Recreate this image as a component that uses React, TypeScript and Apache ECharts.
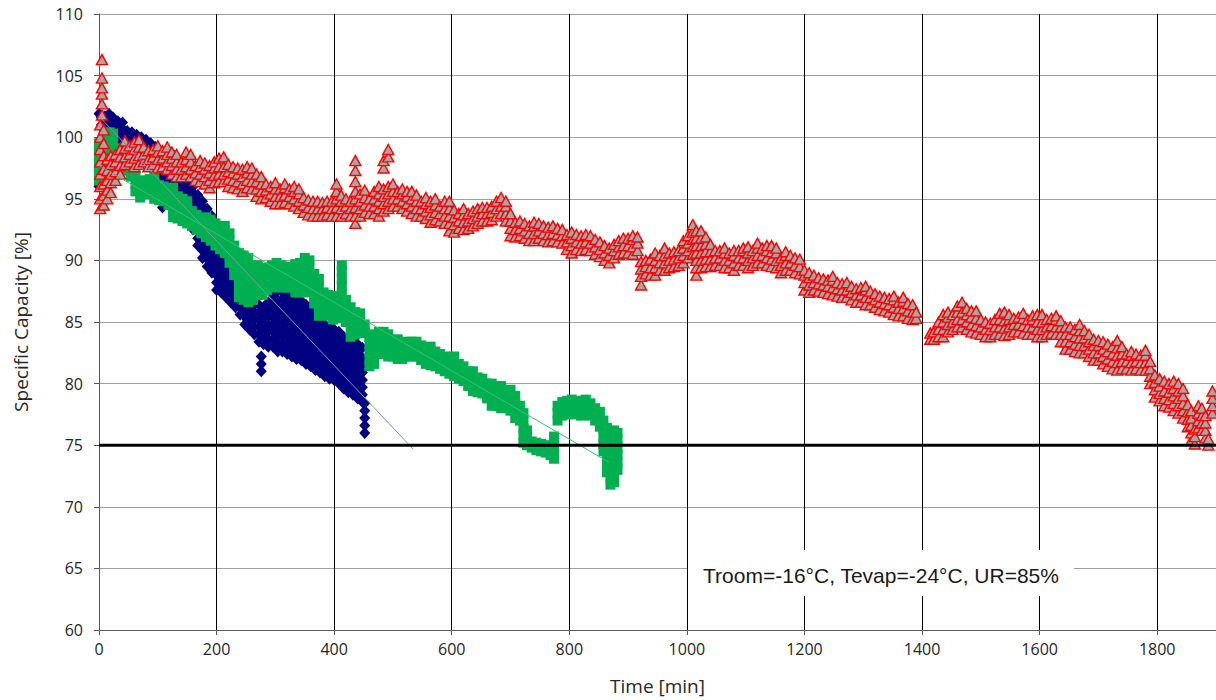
import { useEffect, useRef } from "react";
import * as echarts from "echarts";

// ---------- axis ticks ----------
const xTicks = { min: 0, max: 1900, interval: 200 };
const yTicks = { min: 60, max: 110, interval: 5 };

// ---------- data: each row is [time, value, value, ...] read column by column ----------
const redSegA: number[][] = [
  [2, 94.2, 95, 96, 97, 98, 99, 100, 101],
  [5, 101.8, 102.7, 103.5, 104, 104.8, 106.3],
  [8, 94.5, 95.3, 96.2, 97.4, 98.5, 99.5, 100.6],
  [14, 95, 95.7, 96.5, 97.3, 98.2],
  [20, 95.5, 96.3, 97, 97.8, 98.5],
  [28, 96.5, 97.2, 98, 98.6],
  [36, 97, 97.7, 98.4, 99],
  [44, 97.8, 98.4, 99.1, 99.7],
  [52, 98, 98.6, 99.3],
  [60, 97.6, 98.3, 99, 99.6],
  [68, 97.8, 98.5, 99.2, 99.8],
  [76, 98, 98.6, 99.2],
  [84, 97.6, 98.2, 98.9],
  [92, 97.8, 98.4, 99],
  [100, 97.5, 98.2, 98.8, 99.3],
  [108, 97.6, 98.3, 98.9],
  [116, 97.4, 98, 98.6, 99.2],
  [124, 97, 97.7, 98.3, 98.8],
  [132, 96.8, 97.4, 98, 98.6],
  [140, 96.8, 97.4, 98],
  [148, 97, 97.6, 98.2, 98.8],
  [156, 96.8, 97.4, 98, 98.6],
  [164, 96.5, 97.1, 97.7],
  [172, 96.4, 97, 97.6, 98.1],
  [180, 96.2, 96.8, 97.4, 97.9],
  [188, 95.9, 96.5, 97.1, 97.7],
  [196, 96.3, 96.9, 97.5, 98],
  [204, 96.4, 97, 97.6, 98.3],
  [212, 96.4, 97, 97.6, 98.4],
  [220, 96, 96.6, 97.2, 97.8],
  [228, 95.9, 96.5, 97.1, 97.6],
  [236, 95.8, 96.4, 97, 97.5],
  [244, 95.6, 96.2, 96.8, 97.4],
  [252, 95.9, 96.5, 97.1, 97.6],
  [260, 95.8, 96.4, 97, 97.5],
  [268, 95.2, 95.8, 96.4, 97],
  [276, 95, 95.6, 96.2, 96.8],
  [284, 95.1, 95.7, 96.2],
  [292, 94.8, 95.4, 96],
  [300, 94.6, 95.2, 95.8, 96.3],
  [308, 94.6, 95.2, 95.8],
  [316, 94.7, 95.3, 95.9, 96.2],
  [324, 94.6, 95.2, 95.8],
  [332, 94.4, 95, 95.6, 96],
  [340, 94.2, 94.8, 95.4, 95.8],
  [348, 93.9, 94.5, 95.1],
  [356, 93.7, 94.3, 94.9],
  [364, 93.6, 94.2, 94.8],
  [372, 93.6, 94.2, 94.8],
  [380, 93.6, 94.2, 94.7],
  [388, 93.7, 94.3, 94.8],
  [396, 93.6, 94.2, 94.8],
  [404, 93.6, 94.3, 95, 95.6, 96.2],
  [412, 93.6, 94.2, 94.8, 95.3],
  [420, 93.8, 94.4, 95],
  [428, 93.6, 94.2, 94.8],
  [436, 93, 93.6, 94.3, 95, 95.6, 96.4, 97.3, 98.1],
  [444, 93.6, 94.2, 94.8, 95.4],
  [452, 93.9, 94.5, 95.1, 95.7],
  [460, 93.8, 94.4, 95],
  [468, 93.8, 94.4, 95, 95.6],
  [476, 93.6, 94.2, 94.8, 95.4, 96],
  [484, 94, 94.6, 95.2, 95.8, 97.5, 98.1],
  [492, 94.2, 94.8, 95.4, 96, 98.4, 99],
  [500, 94.4, 95, 95.6, 96.2],
  [508, 94.4, 95, 95.6],
  [516, 94.2, 94.8, 95.4, 95.8],
  [524, 94, 94.6, 95.2, 95.6],
  [532, 93.8, 94.4, 95, 95.6],
  [540, 93.6, 94.2, 94.8, 95.3],
  [548, 93.6, 94.2, 94.8],
  [556, 93.4, 94, 94.6, 95.1],
  [564, 93.1, 93.7, 94.3, 94.8],
  [572, 93.3, 93.9, 94.5, 95],
  [580, 93.2, 93.8, 94.4],
  [588, 93, 93.6, 94.2, 94.8],
  [596, 92.4, 93, 93.6, 94.2, 94.8],
  [604, 92.3, 92.9, 93.5, 94.1],
  [612, 92.6, 93.2, 93.8],
  [620, 92.5, 93.1, 93.7, 94.2],
  [628, 92.6, 93.2, 93.8],
  [636, 92.8, 93.4, 94],
  [644, 93, 93.6, 94.2],
  [652, 93.2, 93.8, 94.3],
  [660, 93.2, 93.8, 94.3],
  [668, 93.3, 93.9, 94.4],
  [676, 93.6, 94.2, 94.8],
  [684, 93.8, 94.4, 95.1],
  [692, 93.2, 93.8, 94.4, 94.8],
  [700, 92, 92.6, 93.2, 93.8],
  [708, 91.9, 92.5, 93.1],
  [716, 92, 92.6, 93.2],
  [724, 91.8, 92.4, 93],
  [732, 91.6, 92.2, 92.8],
  [740, 91.6, 92.2, 92.8, 93.1],
  [748, 91.8, 92.4, 93],
  [756, 91.6, 92.2, 92.8],
  [764, 91.5, 92.1, 92.7],
  [772, 91.6, 92.2, 92.8],
  [780, 91.5, 92.1, 92.6],
  [788, 91.4, 92, 92.5],
  [796, 90.9, 91.5, 92.1],
  [804, 90.6, 91.2, 91.8, 92.3],
  [812, 90.9, 91.5, 92.1],
  [820, 90.8, 91.4, 92],
  [828, 90.9, 91.5, 92.1],
  [836, 90.8, 91.4, 92],
  [844, 90.5, 91.1, 91.7],
  [852, 90.3, 90.9, 91.5],
  [860, 90, 90.6, 91.2],
  [868, 89.8, 90.4, 91],
  [876, 90.2, 90.8, 91.3],
  [884, 90.5, 91.1, 91.6],
  [892, 90.6, 91.2, 91.8],
  [900, 90.6, 91.2, 91.8],
  [908, 90.5, 91.1, 91.7, 92],
  [916, 90.8, 91.4, 91.9],
];

const redSegB: number[][] = [
  [922, 88, 88.7, 89.3, 89.9],
  [930, 88.9, 89.5, 90],
  [938, 88.8, 89.4, 90.1],
  [946, 88.8, 89.4, 90, 90.6],
  [954, 89.2, 89.8, 90.4],
  [962, 89.2, 89.8, 90.4, 91],
  [970, 89.4, 90, 90.6],
  [978, 89.5, 90.1, 90.7],
  [986, 89.6, 90.2, 90.8],
  [994, 89.8, 90.4, 91, 91.6],
  [1002, 90.2, 90.8, 91.4, 92],
  [1010, 90.5, 91.1, 91.7, 92.3, 92.9],
  [1016, 88.8, 89.4, 90, 90.6, 91.2, 91.8, 92.4],
  [1024, 89.4, 90, 90.6, 91.2, 91.8, 92.4],
  [1032, 89.5, 90.1, 90.7, 91.3, 91.9],
  [1040, 89.5, 90.1, 90.7, 91.3],
  [1048, 89.6, 90.2, 90.8],
  [1056, 89.6, 90.2, 90.8],
  [1064, 89.4, 90, 90.6, 91],
  [1072, 89.4, 90, 90.6],
  [1080, 89.2, 89.8, 90.4, 90.8],
  [1088, 89.6, 90.2, 90.8],
  [1096, 89.6, 90.2, 90.8, 91],
  [1104, 89.4, 90, 90.6, 91.1],
  [1112, 89.6, 90.2, 90.8],
  [1120, 89.8, 90.4, 91, 91.4],
  [1128, 89.8, 90.4, 91],
  [1136, 89.6, 90.2, 90.8, 91.2],
  [1144, 89.5, 90.1, 90.7, 91.2],
  [1152, 89.4, 90, 90.6, 91],
  [1160, 89, 89.6, 90.2],
  [1168, 89.2, 89.8, 90.4, 90.7],
  [1176, 89.2, 89.8, 90.4],
  [1184, 89, 89.6, 90.2],
  [1192, 88.9, 89.5, 90.1],
  [1200, 87.6, 88.2, 88.8, 89.2],
  [1208, 87.4, 88, 88.6, 89],
  [1216, 87.6, 88.2, 88.8],
  [1224, 87.5, 88.1, 88.6],
  [1232, 87.4, 88, 88.5],
  [1240, 87.3, 87.9, 88.4],
  [1248, 87.2, 87.8, 88.4, 88.7],
  [1256, 87.1, 87.7, 88.2],
  [1264, 87, 87.6, 88.1],
  [1272, 87, 87.6, 88.2],
  [1280, 86.8, 87.4, 87.9],
  [1288, 86.6, 87.2, 87.7],
  [1296, 86.6, 87.2, 87.8],
  [1304, 86.4, 87, 87.6, 87.9],
  [1312, 86.4, 87, 87.5],
  [1320, 86.2, 86.8, 87.3],
  [1328, 86, 86.6, 87.1],
  [1336, 85.9, 86.5, 87],
  [1344, 85.8, 86.4, 86.9],
  [1352, 85.6, 86.2, 86.8, 87.1],
  [1360, 85.5, 86.1, 86.6],
  [1368, 85.5, 86.1, 86.7, 87],
  [1376, 85.3, 85.9, 86.5],
  [1384, 85.2, 85.8, 86.4],
  [1390, 85.3, 85.8],
];

const redSegC: number[][] = [
  [1414, 83.6, 84.1],
  [1420, 83.6, 84.2],
  [1428, 83.8, 84.4, 85],
  [1436, 83.8, 84.4, 85, 85.6],
  [1444, 84.2, 84.8, 85.4, 85.8],
  [1452, 84.4, 85, 85.6],
  [1460, 84.6, 85.2, 85.8, 86.3],
  [1468, 84.6, 85.2, 85.8, 86.6],
  [1476, 84.4, 85, 85.6, 86.1],
  [1484, 84.2, 84.8, 85.4, 85.9],
  [1492, 84.1, 84.7, 85.3, 85.9],
  [1500, 84, 84.6, 85.2],
  [1508, 83.8, 84.4, 85],
  [1516, 83.8, 84.4, 84.9],
  [1524, 84, 84.6, 85.2],
  [1532, 84, 84.6, 85.2, 85.7],
  [1540, 83.9, 84.5, 85.1, 85.8],
  [1548, 84, 84.6, 85.2, 85.6],
  [1556, 84.2, 84.8, 85.3],
  [1564, 84.2, 84.8, 85.4],
  [1572, 84.1, 84.7, 85.3, 85.7],
  [1580, 84, 84.6, 85.2],
  [1588, 84, 84.6, 85.2, 85.5],
  [1596, 83.8, 84.4, 85, 85.6],
  [1604, 83.8, 84.4, 85, 85.6],
  [1612, 84, 84.6, 85.2],
  [1620, 84.1, 84.7, 85.3],
  [1628, 84, 84.6, 85.2, 85.5],
  [1636, 83.4, 84, 84.6, 85.1],
  [1644, 82.8, 83.4, 84, 84.6],
  [1652, 82.8, 83.4, 84, 84.6],
  [1660, 82.6, 83.2, 83.8, 84.4],
  [1668, 82.5, 83.1, 83.7, 84.3, 84.8],
  [1676, 82.5, 83.1, 83.7, 84.3],
  [1684, 82.2, 82.8, 83.4, 84],
  [1692, 81.9, 82.5, 83.1, 83.6],
  [1700, 81.9, 82.5, 83.1, 83.5],
  [1708, 81.6, 82.2, 82.8, 83.4],
  [1716, 81.4, 82, 82.6, 83.2],
  [1724, 81.2, 81.8, 82.4, 83],
  [1732, 81.1, 81.7, 82.3, 82.9, 83.5],
  [1740, 81.2, 81.8, 82.4, 83],
  [1748, 81.2, 81.8, 82.4],
  [1756, 81.1, 81.7, 82.3, 82.6],
  [1764, 81.2, 81.8, 82.4],
  [1772, 81.1, 81.7, 82.3],
  [1780, 81.1, 81.7, 82.3, 82.7],
  [1788, 80, 80.6, 81.2, 81.8],
  [1796, 78.9, 79.5, 80.1, 80.7],
  [1804, 78.6, 79.2, 79.8, 80.4],
  [1812, 78.2, 78.8, 79.4, 80.2],
  [1820, 78.1, 78.7, 79.3, 80],
  [1828, 77.8, 78.4, 79, 79.6, 80.2],
  [1836, 77.6, 78.2, 78.8, 79.4, 80],
  [1844, 77.2, 77.8, 78.4, 79, 79.6],
  [1852, 76.5, 77.1, 77.7, 78.3],
  [1858, 75.4, 76, 76.6, 77.2, 77.8],
  [1864, 75.1, 75.7, 76.3],
  [1870, 76.4, 77, 77.6, 78.2],
  [1876, 76.2, 76.8, 77.4, 78],
  [1882, 75.6, 76.2, 76.8, 77.4],
  [1887, 75, 75.5],
  [1894, 77.6, 78.2, 78.8, 79.4],
];

const blueColumns: number[][] = [
  [0, 96, 101.9],
  [4, 101, 101.6],
  [10, 100.5, 101.1, 101.7],
  [17, 100.3, 100.9, 101.5, 101.9],
  [24, 99.9, 100.5, 101.1, 101.6],
  [32, 99.5, 100.1, 100.7, 101.3],
  [40, 98.9, 99.5, 100.1, 100.7, 101.2],
  [48, 98.7, 99.3, 99.9, 100.5],
  [56, 98.6, 99.2, 99.8, 100.4],
  [64, 98.4, 99, 99.6, 100.2],
  [72, 98.3, 98.9, 99.5, 100],
  [80, 98.1, 98.7, 99.3, 99.8],
  [88, 97.8, 98.4, 99, 99.5],
  [96, 97.6, 98.2, 98.8, 99.2],
  [104, 96, 96.6, 97.2, 97.8, 98.4, 98.9],
  [108, 94.3, 94.7],
  [112, 96, 96.6, 97.2, 97.8, 98.4],
  [120, 95.8, 96.4, 97, 97.6, 98.2],
  [128, 95.5, 96.1, 96.7, 97.3, 97.9, 98.5],
  [136, 95.3, 95.9, 96.5, 97.1, 97.7],
  [144, 94.6, 95.2, 95.8, 96.4, 97],
  [152, 93.6, 94.2, 94.8, 95.4, 96, 96.4],
  [160, 92.5, 93.1, 93.7, 94.3, 94.9, 95.5, 96],
  [168, 91.2, 91.8, 92.4, 93, 93.6, 94.2, 94.8, 95.3],
  [176, 90.2, 90.8, 91.4, 92, 92.6, 93.2, 93.8, 94.4, 94.8],
  [184, 89.5, 90.1, 90.7, 91.3, 91.9, 92.5, 93.1, 93.7, 94.2],
  [192, 89, 89.6, 90.2, 90.8, 91.4, 92, 92.6, 93.2, 93.6],
  [200, 87.6, 88.2, 88.8, 89.4, 90, 90.6, 91.2, 91.8],
  [208, 87.4, 88, 88.6, 89.2, 89.8, 90.4, 91, 91.5],
  [216, 87, 87.6, 88.2, 88.8, 89.4, 90, 90.6],
  [224, 86.6, 87.2, 87.8, 88.4, 89, 89.6, 90.2],
  [232, 86.2, 86.8, 87.4, 88, 88.6, 89.2],
  [240, 85.6, 86.2, 86.8, 87.4, 88, 88.6],
  [248, 84.8, 85.4, 86, 86.6, 87.2, 87.8],
  [256, 84.4, 85, 85.6, 86.2, 86.8, 87.4],
  [264, 84, 84.6, 85.2, 85.8, 86.4, 87],
  [272, 83.4, 84, 84.6, 85.2, 85.8, 86.4],
  [276, 81, 81.6, 82.2],
  [280, 83.2, 83.8, 84.4, 85, 85.6, 86.2],
  [288, 83, 83.6, 84.2, 84.8, 85.4, 86, 86.6],
  [296, 83, 83.6, 84.2, 84.8, 85.4, 86, 86.6, 87.2],
  [304, 82.6, 83.2, 83.8, 84.4, 85, 85.6, 86.2, 86.8, 87.6],
  [312, 82.6, 83.2, 83.8, 84.4, 85, 85.6, 86.2, 86.8, 87.4],
  [320, 82.4, 83, 83.6, 84.2, 84.8, 85.4, 86, 86.6, 87.2],
  [328, 82.2, 82.8, 83.4, 84, 84.6, 85.2, 85.8, 86.4, 87],
  [336, 82, 82.6, 83.2, 83.8, 84.4, 85, 85.6, 86.2, 86.8],
  [344, 81.9, 82.5, 83.1, 83.7, 84.3, 84.9, 85.5, 86.1, 86.7],
  [352, 81.6, 82.2, 82.8, 83.4, 84, 84.6, 85.2, 85.8, 86.4],
  [360, 81.4, 82, 82.6, 83.2, 83.8, 84.4, 85, 85.6, 86.2],
  [368, 81.1, 81.7, 82.3, 82.9, 83.5, 84.1, 84.7, 85.3, 85.8],
  [376, 80.9, 81.5, 82.1, 82.7, 83.3, 83.9, 84.5, 85.1],
  [384, 80.6, 81.2, 81.8, 82.4, 83, 83.6, 84.2, 84.8],
  [392, 80.4, 81, 81.6, 82.2, 82.8, 83.4, 84, 84.6],
  [400, 80.3, 80.9, 81.5, 82.1, 82.7, 83.3, 83.9, 84.4],
  [408, 80, 80.6, 81.2, 81.8, 82.4, 83, 83.6, 84.2],
  [416, 79.6, 80.2, 80.8, 81.4, 82, 82.6, 83.2, 83.8],
  [424, 79.3, 79.9, 80.5, 81.1, 81.7, 82.3, 82.9, 83.5],
  [432, 79.1, 79.7, 80.3, 80.9, 81.5, 82.1, 82.7, 83.4],
  [440, 78.8, 79.4, 80, 80.6, 81.2, 81.8, 82.4, 83.2],
  [448, 78.5, 79.1, 79.7, 80.3, 80.9, 81.5, 82.1, 82.9],
  [452, 76, 76.6, 77.2, 77.8, 78.4],
];

const greenColumns: number[][] = [
  [0, 96.5, 97.1, 97.7, 98.3, 98.9, 99.5],
  [6, 96.5, 97.1, 97.7, 98.3, 98.9, 99.5],
  [12, 97.5, 98.1, 98.7, 99.3, 99.9],
  [18, 98.4, 99, 99.6, 100.4],
  [24, 97.8, 98.4, 99, 99.6, 100.3],
  [30, 97.3, 97.9, 98.5, 99.1],
  [38, 97.3, 97.8],
  [46, 97.3, 97.8],
  [54, 96.8, 97.4],
  [62, 95.6, 96.2, 96.8, 97.4],
  [70, 95.1, 95.7, 96.3],
  [78, 95.4, 96, 96.5],
  [86, 95.4, 96, 96.6],
  [94, 95, 95.6, 96.2, 96.8],
  [102, 94.9, 95.5, 96.1],
  [110, 94.8, 95.4, 96],
  [118, 94.5, 95.1, 95.7],
  [126, 93.5, 94.1, 94.7, 95.3, 95.9],
  [134, 93.4, 94, 94.6, 95.2],
  [142, 93.2, 93.8, 94.4, 95],
  [150, 93, 93.6, 94.2, 94.8],
  [158, 92.8, 93.4, 94],
  [166, 92.5, 93.1, 93.7],
  [174, 92.2, 92.8, 93.4],
  [182, 91.9, 92.5, 93.1, 93.5],
  [190, 91.6, 92.2, 92.8, 93.3],
  [198, 91.2, 91.8, 92.4, 93],
  [206, 90.9, 91.5, 92.1, 92.7],
  [214, 90.6, 91.2, 91.8, 92.4, 92.8],
  [222, 89.8, 90.4, 91, 91.6, 92.2],
  [230, 88.8, 89.4, 90, 90.6, 91.2],
  [238, 87, 87.6, 88.2, 88.8, 89.4, 90, 90.6],
  [246, 86.8, 87.4, 88, 88.6, 89.2, 89.8, 90.4],
  [254, 86.6, 87.2, 87.8, 88.4, 89, 89.6, 90.2],
  [262, 86.8, 87.4, 88, 88.6, 89.2],
  [270, 87.2, 87.8, 88.4, 89, 89.6],
  [278, 87.2, 87.8, 88.4, 89, 89.4],
  [286, 87.6, 88.2, 88.8, 89.4],
  [294, 87.8, 88.4, 89, 89.6],
  [302, 87.9, 88.5, 89.1, 89.8],
  [310, 87.8, 88.4, 89, 89.6],
  [318, 87.8, 88.4, 89, 89.4],
  [326, 87.8, 88.4, 89, 89.5],
  [334, 87.4, 88, 88.6, 89.2, 89.7],
  [342, 87.4, 88, 88.6, 89.2, 89.8],
  [350, 87.4, 88, 88.6, 89.2, 89.8, 90.2],
  [358, 87.6, 88.2, 88.8, 89.4, 90],
  [366, 86.5, 87.1, 87.7, 88.3, 88.9],
  [374, 85.5, 86.1, 86.7, 87.3, 87.9, 88.5],
  [382, 85.6, 86.2, 86.8, 87.4],
  [390, 85.5, 86.1, 86.7, 87.2],
  [398, 85.2, 85.8, 86.4, 87],
  [406, 85.3, 85.9, 86.5, 87.1],
  [413, 85.5, 86.1, 86.7, 87.3, 87.9, 88.5, 89.1, 89.6],
  [420, 85, 85.6, 86.2, 86.8],
  [428, 83.8, 84.4, 85, 85.6, 86.2],
  [436, 84, 84.6, 85.2, 85.8],
  [444, 84.1, 84.7, 85.3, 85.7],
  [452, 84.2, 84.8],
  [460, 81.4, 82, 82.6, 83.2, 83.8],
  [468, 81.6, 82.2, 82.8, 83.4, 84],
  [476, 82.4, 83, 83.6, 84.2],
  [484, 82.5, 83.1, 83.7, 84.2],
  [492, 82.2, 82.8, 83.4, 84],
  [500, 82.2, 82.8, 83.4],
  [508, 82, 82.6, 83.2, 83.6],
  [516, 82, 82.6, 83.2],
  [524, 82.2, 82.8, 83.4],
  [532, 82.2, 82.8, 83.4],
  [540, 82.2, 82.8, 83.4],
  [548, 81.9, 82.5, 83.1],
  [556, 81.6, 82.2, 82.8],
  [564, 81.5, 82.1, 82.7, 83],
  [572, 81.4, 82, 82.6],
  [580, 81.2, 81.8, 82.4],
  [588, 81, 81.6, 82.2],
  [596, 80.8, 81.4, 82],
  [604, 80.6, 81.2, 81.8, 82.2],
  [612, 80.4, 81, 81.6],
  [620, 80.2, 80.8, 81.4],
  [628, 79.8, 80.4, 81],
  [636, 79.4, 80, 80.6, 81],
  [644, 79.3, 79.9, 80.5],
  [652, 79.2, 79.8, 80.4],
  [660, 78.8, 79.4, 80],
  [668, 78.2, 78.8, 79.4, 80],
  [676, 78.2, 78.8, 79.4, 79.8],
  [684, 78, 78.6, 79.2, 79.8],
  [692, 78.1, 78.7, 79.3],
  [700, 77.8, 78.4, 79, 79.5],
  [708, 77.2, 77.8, 78.4, 79],
  [716, 77, 77.6, 78.2],
  [722, 75.2, 75.8, 76.4, 77, 77.6],
  [728, 75, 75.6, 76.2],
  [736, 74.8, 75.3],
  [744, 74.6, 75.2],
  [752, 74.5, 75.1],
  [760, 74.4, 75],
  [768, 74.2, 74.8],
  [774, 73.9, 74.5, 75.1, 75.7],
  [780, 77, 77.6, 78.2],
  [788, 77.4, 78, 78.5],
  [796, 77.5, 78.1, 78.6],
  [804, 77.6, 78.2, 78.7],
  [812, 77.5, 78.1, 78.6],
  [820, 77.4, 78, 78.6],
  [828, 77.6, 78.2, 78.7],
  [836, 77.4, 78, 78.4],
  [844, 77, 77.6, 78],
  [852, 76.5, 77.1, 77.7],
  [858, 74.5, 75.1, 75.7, 76.3, 77],
  [864, 72.8, 73.4, 74, 74.6, 75.2, 75.8, 76.4],
  [870, 71.8, 72.4, 73, 73.6, 74.2, 74.8, 75.4, 76],
  [876, 72, 72.6, 73.2, 73.8, 74.4, 75, 75.6, 76.2],
  [882, 73, 73.6, 74.2, 74.8, 75.4, 76],
];

// linear trends and the 75 % limit
const blueTrend: number[][] = [[0, 101.7], [534, 74.7]];
const greenTrend: number[][] = [[0, 97.7], [868, 73.6]];
const limitLine: number[][] = [[0, 75], [1900, 75]];

const xAxisTitle = "Time [min]";
const yAxisTitle = "Specific Capacity [%]";
const annotationText = "Troom=-16°C, Tevap=-24°C, UR=85%";

const toPoints = (cols: number[][]) =>
  cols.flatMap(([t, ...vs]) => vs.map((v) => [t, v]));

const labelFont = '"Open Sans", "Noto Sans", sans-serif';

export default function App() {
  const ref = useRef<HTMLDivElement>(null);
  useEffect(() => {
    const chart = echarts.init(ref.current!, null, { renderer: "svg" });
    chart.setOption({
      animation: false,
      backgroundColor: "#ffffff",
      grid: { left: 99, right: 0, top: 14, bottom: 70, containLabel: false },
      xAxis: {
        type: "value",
        min: xTicks.min,
        max: xTicks.max,
        interval: xTicks.interval,
        name: xAxisTitle,
        nameLocation: "middle",
        nameGap: 46,
        nameTextStyle: { fontFamily: labelFont, fontSize: 19, color: "#262626" },
        axisLine: { show: true, lineStyle: { color: "#595959", width: 1 } },
        axisTick: { show: true, length: 5, lineStyle: { color: "#595959" } },
        axisLabel: {
          fontFamily: labelFont,
          fontSize: 16,
          color: "#262626",
          margin: 11,
          showMaxLabel: false,
          formatter: (v: number) => String(v),
        },
        splitLine: { show: true, lineStyle: { color: "#000000", width: 1 } },
      },
      yAxis: {
        type: "value",
        min: yTicks.min,
        max: yTicks.max,
        interval: yTicks.interval,
        name: yAxisTitle,
        nameLocation: "middle",
        nameGap: 69,
        nameTextStyle: { fontFamily: labelFont, fontSize: 19, color: "#262626" },
        axisLine: { show: true, lineStyle: { color: "#595959", width: 1 } },
        axisTick: { show: true, length: 5, lineStyle: { color: "#595959" } },
        axisLabel: {
          fontFamily: labelFont,
          fontSize: 16,
          color: "#262626",
          margin: 16,
          formatter: (v: number) => String(v),
        },
        splitLine: { show: true, lineStyle: { color: "#a0a0a0", width: 1 } },
      },
      series: [
        {
          type: "scatter",
          name: "blue",
          data: toPoints(blueColumns),
          symbol: "diamond",
          symbolSize: [11, 12],
          itemStyle: { color: "#000080", opacity: 1 },
          silent: true,
          z: 2,
        },
        {
          type: "scatter",
          name: "green",
          data: toPoints(greenColumns),
          symbol: "rect",
          symbolSize: 10,
          itemStyle: { color: "#00b050", opacity: 1 },
          silent: true,
          z: 3,
        },
        ...[redSegA, redSegB, redSegC].map((seg, i) => ({
          type: "scatter",
          name: "red" + i,
          data: toPoints(seg),
          symbol: "triangle",
          symbolSize: [11, 10],
          itemStyle: {
            color: "#a6a6a6",
            borderColor: "#ff0000",
            borderWidth: 1.4,
            opacity: 1,
          },
          silent: true,
          z: 4,
        })),
        {
          type: "line",
          data: blueTrend,
          symbol: "none",
          lineStyle: { color: "#8496b0", width: 1 },
          silent: true,
          z: 5,
        },
        {
          type: "line",
          data: greenTrend,
          symbol: "none",
          lineStyle: { color: "#3cbf6e", width: 1 },
          silent: true,
          z: 5,
        },
        {
          type: "line",
          data: limitLine,
          symbol: "none",
          lineStyle: { color: "#000000", width: 3 },
          silent: true,
          z: 6,
        },
      ],
      graphic: [
        {
          type: "rect",
          shape: { x: 688, y: 550, width: 386, height: 46 },
          style: { fill: "#ffffff" },
          z: 100,
          silent: true,
        },
        {
          type: "text",
          x: 881,
          y: 575,
          z: 101,
          silent: true,
          style: {
            text: annotationText,
            fontFamily: '"Liberation Sans", Arial, sans-serif',
            fontSize: 21,
            fill: "#1a1a1a",
            align: "center",
            verticalAlign: "middle",
            textAlign: "center",
            textVerticalAlign: "middle",
          },
        },
      ],
    });
    return () => chart.dispose();
  }, []);
  return (
    <div
      ref={ref}
      style={{ position: "absolute", left: 0, top: 0, width: 1216, height: 700 }}
    />
  );
}
